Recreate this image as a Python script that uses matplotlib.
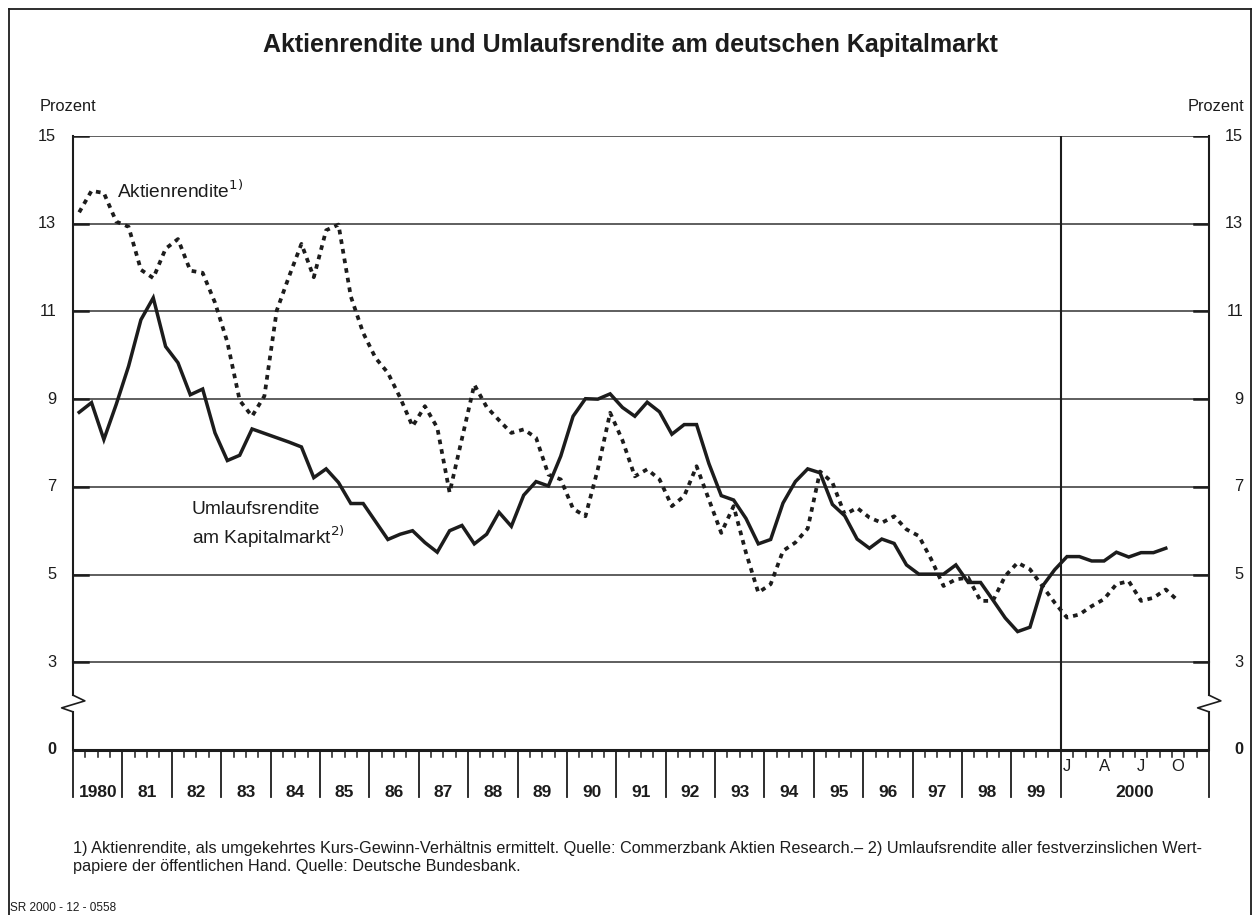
import numpy as np
import matplotlib
matplotlib.use('Agg')
import matplotlib.pyplot as plt

plt.rcParams['font.family'] = ['Liberation Sans', 'DejaVu Sans']

# ~~~~~ data: quarterly 1980-1999, monthly 2000
years = np.arange(1980, 2000)
umlauf_q = [8.70, 8.92, 8.08, 8.88,
            9.75, 10.81, 11.31, 10.20,
            9.83, 9.10, 9.23, 8.23,
            7.60, 7.72, 8.32, 8.22,
            8.12, 8.02, 7.91, 7.21,
            7.41, 7.10, 6.62, 6.62,
            6.21, 5.80, 5.92, 6.00,
            5.73, 5.51, 6.00, 6.12,
            5.70, 5.92, 6.42, 6.10,
            6.81, 7.12, 7.02, 7.70,
            8.61, 9.01, 9.00, 9.12,
            8.81, 8.61, 8.93, 8.71,
            8.20, 8.42, 8.42, 7.53,
            6.80, 6.70, 6.28, 5.70,
            5.80, 6.63, 7.12, 7.41,
            7.32, 6.60, 6.34, 5.81,
            5.60, 5.81, 5.71, 5.22,
            5.01, 5.01, 5.01, 5.22,
            4.82, 4.82, 4.42, 4.01,
            3.70, 3.80, 4.73, 5.11]
aktien_q = [13.26, 13.75, 13.70, 13.05,
            12.93, 11.95, 11.76, 12.43,
            12.65, 11.93, 11.88, 11.20,
            10.30, 8.97, 8.61, 9.07,
            11.02, 11.80, 12.54, 11.78,
            12.85, 12.98, 11.34, 10.51,
            9.94, 9.60, 9.03, 8.38,
            8.84, 8.35, 6.87, 8.10,
            9.33, 8.82, 8.52, 8.23,
            8.31, 8.12, 7.28, 7.17,
            6.50, 6.33, 7.40, 8.69,
            8.06, 7.24, 7.40, 7.17,
            6.56, 6.79, 7.47, 6.71,
            5.95, 6.56, 5.50, 4.59,
            4.78, 5.54, 5.73, 6.05,
            7.35, 7.10, 6.37, 6.52,
            6.30, 6.18, 6.33, 6.03,
            5.88, 5.35, 4.74, 4.89,
            4.93, 4.40, 4.40, 4.97,
            5.27, 5.12, 4.74, 4.36]
umlauf_2000 = [5.41, 5.41, 5.31, 5.31, 5.51, 5.40, 5.50, 5.50, 5.60]            # Jan-Sep
aktien_2000 = [4.02, 4.09, 4.28, 4.44, 4.78, 4.85, 4.40, 4.47, 4.66, 4.40]      # Jan-Oct

ytick_vals = [3, 5, 7, 9, 11, 13, 15]
month_labels = ['J', 'A', 'J', 'O']

ink = '#1c1c1c'


def yt(v):
    # broken axis: 0..3 squeezed into 2 units, above 3 linear
    v = np.asarray(v, dtype=float)
    return np.where(v >= 3, v - 1, v * 2 / 3)


def xpos_q(n):
    # quarter centres, one unit per year
    return (np.arange(n) + 0.5) / 4


def xpos_m(n):
    # 2000 gets three units, months centred
    return 20 + (np.arange(n) + 0.5) / 4


fig = plt.figure(figsize=(12.6, 9.15), dpi=100)
ax = fig.add_axes([73 / 1260, 1 - 750 / 915, 1136 / 1260, 614 / 915])
ax.set_xlim(0, 23)
ax.set_ylim(0, 14)
ax.axis('off')

'''~~~~~ grid + ticks on the value axes'''
for v in ytick_vals:
    ax.plot([0, 23], [yt(v)] * 2, color='#333333', lw=1.1, zorder=1)
    ax.plot([0, 0.3], [yt(v)] * 2, color=ink, lw=1.8, zorder=2)
    ax.plot([22.7, 23], [yt(v)] * 2, color=ink, lw=1.8, zorder=2)
    ax.text(-0.34, yt(v), str(v), ha='right', va='center', fontsize=11.8, color=ink)
    ax.text(23.69, yt(v), str(v), ha='right', va='center', fontsize=11.8, color=ink)
ax.text(-0.34, 0, '0', ha='right', va='center', fontsize=11.8, fontweight='bold', color=ink)
ax.text(23.69, 0, '0', ha='right', va='center', fontsize=11.8, fontweight='bold', color=ink)
ax.text(-0.67, 14.68, 'Prozent', ha='left', va='center', fontsize=11.8, color=ink)
ax.text(23.71, 14.68, 'Prozent', ha='right', va='center', fontsize=11.8, color=ink)

# side spines with the break zigzag
for x0 in (0, 23):
    ax.plot([x0, x0], [yt(3), 1.25], color=ink, lw=1.5, clip_on=False)
    ax.plot([x0, x0], [0, 0.87], color=ink, lw=1.5, clip_on=False)
    ax.plot([x0, x0 + 0.24, x0 - 0.23, x0], [1.25, 1.12, 0.96, 0.87], color=ink, lw=1.2, clip_on=False)
    ax.plot([x0, x0], [yt(3), yt(15)], color=ink, lw=1.5, clip_on=False)

ax.plot([20, 20], [0, yt(15)], color=ink, lw=1.5)
ax.plot([0, 23], [0, 0], color=ink, lw=2.2, clip_on=False, solid_capstyle='butt')

'''~~~~~ time axis'''
for k in range(21):
    ax.plot([k, k], [0, -1.07], color=ink, lw=1.3, clip_on=False)
ax.plot([23, 23], [0, -1.07], color=ink, lw=1.3, clip_on=False)
for k in range(20):
    for q in (0.25, 0.5, 0.75):
        ax.plot([k + q] * 2, [0, -0.16], color=ink, lw=1.1, clip_on=False)
    lab = str(years[k]) if k == 0 else str(years[k])[2:]
    ax.text(k + 0.5, -0.96, lab, ha='center', va='center', fontsize=12.5, fontweight='bold', color=ink)
for m in range(1, 12):
    ax.plot([20 + m / 4] * 2, [0, -0.16], color=ink, lw=1.1, clip_on=False)
for i, lab in enumerate(month_labels):
    ax.text(20 + 0.125 + i * 0.75, -0.38, lab, ha='center', va='center', fontsize=12, color=ink)
ax.text(21.5, -0.96, '2000', ha='center', va='center', fontsize=12.5, fontweight='bold', color=ink)

'''~~~~~ the two series'''
xa = np.concatenate([xpos_q(len(aktien_q)), xpos_m(len(aktien_2000))])
ya = yt(np.concatenate([aktien_q, aktien_2000]))
xu = np.concatenate([xpos_q(len(umlauf_q)), xpos_m(len(umlauf_2000))])
yu = yt(np.concatenate([umlauf_q, umlauf_2000]))

ax.plot(xa, ya, color=ink, lw=2.7, linestyle=(0, (1.25, 1.35)), zorder=4)
ax.plot(xu, yu, color=ink, lw=2.5, solid_joinstyle='miter', zorder=5)

ax.text(0.885, 12.75, 'Aktienrendite$^{1)}$', ha='left', va='center', fontsize=13.8, color=ink)
ax.text(2.40, 5.49, 'Umlaufsrendite', ha='left', va='center', fontsize=13.8, color=ink)
ax.text(2.40, 4.86, 'am Kapitalmarkt$^{2)}$', ha='left', va='center', fontsize=13.8, color=ink)

'''~~~~~ title, notes, frame'''
fig.text(0.5, 1 - 45 / 915, 'Aktienrendite und Umlaufsrendite am deutschen Kapitalmarkt',
         ha='center', va='center', fontsize=18, fontweight='bold', color=ink)
fig.text(73 / 1260, 1 - 848 / 915,
         '1) Aktienrendite, als umgekehrtes Kurs-Gewinn-Verhältnis ermittelt. Quelle: Commerzbank Aktien Research.– '
         '2) Umlaufsrendite aller festverzinslichen Wert-',
         ha='left', va='center', fontsize=11.7, color=ink)
fig.text(73 / 1260, 1 - 867 / 915, 'papiere der öffentlichen Hand. Quelle: Deutsche Bundesbank.',
         ha='left', va='center', fontsize=11.7, color=ink)
fig.text(10 / 1260, 1 - 908 / 915, 'SR 2000 - 12 - 0558', ha='left', va='center', fontsize=8.5, color=ink)

fx = [9 / 1260, 1251 / 1260]
fy = 1 - 9 / 915
fig.add_artist(plt.Line2D([fx[0], fx[0]], [fy, 0], color=ink, lw=1.3))
fig.add_artist(plt.Line2D([fx[0], fx[1]], [fy, fy], color=ink, lw=1.3))
fig.add_artist(plt.Line2D([fx[1], fx[1]], [fy, 0], color=ink, lw=1.3))

fig.savefig('out.png', dpi=100, facecolor='white')
